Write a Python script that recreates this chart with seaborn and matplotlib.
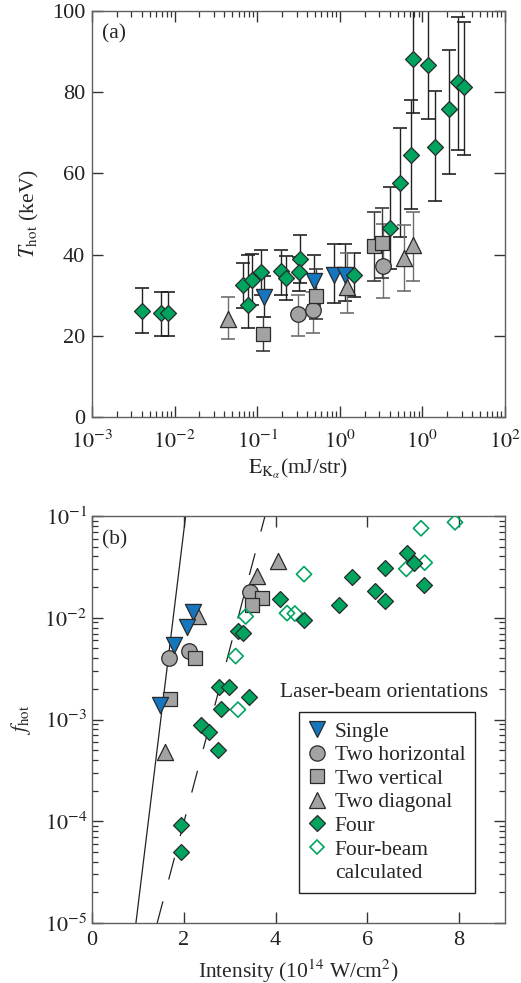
import numpy as np
import pandas as pd
import matplotlib
matplotlib.use("Agg")
import matplotlib.pyplot as plt
import seaborn as sns
from matplotlib.lines import Line2D
from matplotlib.ticker import (LogLocator, FixedLocator, FixedFormatter,
                               NullLocator, NullFormatter)

# ---------------- Panel (a) data: E_Kalpha (mJ/str) vs T_hot (keV) ----------------
a_single_x = [0.122, 0.487, 0.84, 1.17]
a_single_y = [29.6, 33.6, 35.0, 35.0]
a_single_hi = [34.8, 39.9, 42.5, 42.5]
a_single_lo = [24.6, 27.5, 28.0, 28.5]

a_horiz_x = [0.316, 0.48, 3.36]
a_horiz_y = [25.4, 26.4, 37.2]
a_horiz_hi = [30.0, 30.9, 47.5]
a_horiz_lo = [20.0, 20.6, 29.2]

a_vert_x = [0.119, 0.52, 2.62, 3.27]
a_vert_y = [20.4, 29.7, 42.1, 42.9]
a_vert_hi = [24.6, 36.4, 50.6, 51.6]
a_vert_lo = [16.3, 24.1, 33.5, 34.2]

a_diag_x = [0.0438, 1.21, 5.98, 7.78]
a_diag_y = [24.1, 31.9, 39.1, 42.4]
a_diag_hi = [29.5, 40.5, 47.3, 50.4]
a_diag_lo = [19.1, 25.7, 31.0, 33.5]

a_four_x = [0.0040, 0.0068, 0.0083, 0.068, 0.078, 0.086, 0.112, 0.194, 0.224,
            0.332, 0.323, 1.49, 4.07, 5.38, 7.35, 7.78, 11.6, 14.3, 20.8, 26.7, 32.1]
a_four_y = [26.2, 25.5, 25.5, 32.5, 27.6, 33.7, 35.8, 36.0, 34.3,
            38.8, 35.6, 35.0, 46.6, 57.7, 64.6, 88.3, 86.7, 66.6, 75.8, 82.6, 81.3]
a_four_hi = [31.7, 30.9, 30.9, 38.0, 39.9, 40.1, 41.1, 41.1, 39.7,
             44.8, 39.5, 40.5, 56.6, 71.3, 78.2, 115.0, 115.0, 80.2, 90.4, 98.5, 97.4]
a_four_lo = [20.7, 19.9, 19.9, 26.9, 21.8, 27.5, 30.0, 30.0, 28.7,
             33.1, 31.0, 29.6, 36.4, 44.4, 51.2, 75.0, 73.5, 53.2, 59.9, 65.7, 64.5]

a_xtick_vals = [1e-3, 1e-2, 1e-1, 1e0, 1e1, 1e2]
a_xtick_labels = [r"$10^{-3}$", r"$10^{-2}$", r"$10^{-1}$", r"$10^{0}$", r"$10^{0}$", r"$10^{2}$"]
a_ytick_vals = [0, 20, 40, 60, 80, 100]

# ---------------- Panel (b) data: intensity vs f_hot ----------------
b_single_x = [2.19, 2.07, 1.79, 1.485]
b_single_y = [0.0115, 0.0082, 0.0054, 0.0014]

b_horiz_x = [1.667, 2.115, 3.44]
b_horiz_y = [0.0040, 0.0047, 0.0179]

b_vert_x = [2.24, 1.70, 3.70, 3.49]
b_vert_y = [0.0040, 0.0016, 0.0156, 0.0132]

b_diag_x = [2.32, 3.59, 4.06, 1.594]
b_diag_y = [0.0105, 0.0258, 0.0362, 0.00048]

b_four_x = [4.09, 4.62, 3.18, 3.28, 2.77, 2.98, 3.42, 2.82, 2.37, 2.54, 2.75,
            1.93, 1.93, 5.38, 5.67, 6.17, 6.39, 6.38, 6.86, 7.01, 7.24]
b_four_y = [0.0152, 0.0094, 0.0074, 0.0071, 0.0021, 0.0021, 0.00166, 0.00127,
            0.00089, 0.00076, 0.00050, 9.1e-5, 5.0e-5, 0.0134, 0.0254, 0.0184,
            0.0147, 0.0311, 0.0430, 0.0348, 0.0211]

b_calc_x = [4.62, 7.17, 7.91, 6.85, 7.25, 3.35, 4.25, 4.42, 3.13, 3.18]
b_calc_y = [0.0268, 0.0757, 0.0867, 0.0302, 0.0348, 0.0103, 0.0111, 0.0110,
            0.0042, 0.00125]

fit_solid_x = [0.957, 2.04]
fit_solid_y = [1e-5, 1e-1]
fit_dashed_x = [1.42, 3.77]
fit_dashed_y = [1e-5, 1e-1]

b_xtick_vals = [0, 2, 4, 6, 8]
b_ytick_vals = [1e-5, 1e-4, 1e-3, 1e-2, 1e-1]
b_ytick_labels = [r"$10^{-5}$", r"$10^{-4}$", r"$10^{-3}$", r"$10^{-2}$", r"$10^{-1}$"]

legend_labels = ["Single", "Two horizontal", "Two vertical", "Two diagonal",
                 "Four", "Four-beam", "calculated"]

# ---------------- Styling ----------------
sns.set_theme(style="ticks")
plt.rcParams['font.family'] = ['Liberation Serif', 'DejaVu Serif']
plt.rcParams['mathtext.fontset'] = 'stix'
plt.rcParams['axes.unicode_minus'] = False

FS = 15.5
TFS = 16
BLUE = "#1575bd"
GREEN = "#00a45f"
GRAY = "#a3a3a3"
EDGE = "#2a2a2a"
SPINE = "#606060"

fig = plt.figure(figsize=(5.21, 9.83), dpi=100)
ax1 = fig.add_axes([0.1766, 0.5758, 0.7927, 0.4130])
ax2 = fig.add_axes([0.1766, 0.0610, 0.7927, 0.4141])


def style_axes(ax):
    for s in ax.spines.values():
        s.set_color(SPINE)
        s.set_linewidth(1.0)
    ax.tick_params(which='both', direction='in', top=True, right=True,
                   colors='#333333', labelcolor='#222222', labelsize=TFS)
    ax.tick_params(which='major', length=8, width=1.0)
    ax.tick_params(which='minor', length=4.5, width=0.9)


def scat(ax, x, y, marker, s, color, filled=True, z=4):
    if filled:
        sns.scatterplot(x=x, y=y, marker=marker, s=s, color=color,
                        edgecolor=EDGE, linewidth=0.9, ax=ax, zorder=z, legend=False)
    else:
        sns.scatterplot(x=x, y=y, marker=marker, s=s, color=color,
                        facecolor='none', edgecolor=color, linewidth=1.2,
                        ax=ax, zorder=z, legend=False)


def ebar(ax, x, y, lo, hi, color):
    y = np.asarray(y)
    err = [y - np.asarray(lo), np.asarray(hi) - y]
    ax.errorbar(x, y, yerr=err, fmt='none', ecolor=color, elinewidth=1.0,
                capsize=4.8, capthick=1.2, zorder=2)


# ---------------- Panel (a) ----------------
ebar(ax1, a_four_x, a_four_y, a_four_lo, a_four_hi, '#222222')
ebar(ax1, a_single_x, a_single_y, a_single_lo, a_single_hi, '#222222')
ebar(ax1, a_horiz_x, a_horiz_y, a_horiz_lo, a_horiz_hi, '#6e6e6e')
ebar(ax1, a_vert_x, a_vert_y, a_vert_lo, a_vert_hi, '#3a3a3a')
ebar(ax1, a_diag_x, a_diag_y, a_diag_lo, a_diag_hi, '#6e6e6e')

scat(ax1, a_horiz_x, a_horiz_y, 'o', 125, GRAY)
scat(ax1, a_vert_x, a_vert_y, 's', 110, GRAY)
scat(ax1, a_diag_x, a_diag_y, '^', 135, GRAY)
scat(ax1, a_single_x, a_single_y, 'v', 135, BLUE)
scat(ax1, a_four_x, a_four_y, 'D', 66, GREEN, z=5)

ax1.set_xscale('log')
ax1.set_xlim(1e-3, 1e2)
ax1.set_ylim(0, 100)
style_axes(ax1)
ax1.tick_params(axis='x', which='major', pad=9.5)
ax1.tick_params(axis='y', which='major', pad=5)
ax1.xaxis.set_major_locator(FixedLocator(a_xtick_vals))
ax1.xaxis.set_major_formatter(FixedFormatter(a_xtick_labels))
ax1.xaxis.set_minor_locator(LogLocator(base=10, subs=np.arange(2, 10), numticks=20))
ax1.xaxis.set_minor_formatter(NullFormatter())
ax1.yaxis.set_major_locator(FixedLocator(a_ytick_vals))
ax1.yaxis.set_minor_locator(NullLocator())
ax1.set_xlabel(r"$\mathrm{E}_{\mathrm{K}_{\alpha}}$(mJ/str)", fontsize=FS, labelpad=3)
ax1.set_ylabel(r"$T_{\mathrm{hot}}$ (keV)", fontsize=FS, labelpad=8)
ax1.text(0.024, 0.968, "(a)", transform=ax1.transAxes, fontsize=FS,
         ha='left', va='top')

# ---------------- Panel (b) ----------------
sns.lineplot(x=fit_solid_x, y=fit_solid_y, ax=ax2, color='#222222', lw=0.9,
             zorder=1, legend=False)
sns.lineplot(x=fit_dashed_x, y=fit_dashed_y, ax=ax2, color='#222222', lw=0.9,
             linestyle=(0, (18, 18)), zorder=1, legend=False)

scat(ax2, b_horiz_x, b_horiz_y, 'o', 125, GRAY)
scat(ax2, b_vert_x, b_vert_y, 's', 110, GRAY)
scat(ax2, b_diag_x, b_diag_y, '^', 135, GRAY)
scat(ax2, b_single_x, b_single_y, 'v', 135, BLUE)
scat(ax2, b_calc_x, b_calc_y, 'D', 60, GREEN, filled=False)
scat(ax2, b_four_x, b_four_y, 'D', 66, GREEN, z=5)

ax2.set_yscale('log')
ax2.set_xlim(0, 9)
ax2.set_ylim(1e-5, 1e-1)
style_axes(ax2)
ax2.tick_params(axis='x', which='major', pad=6)
ax2.xaxis.set_major_locator(FixedLocator(b_xtick_vals))
ax2.xaxis.set_minor_locator(NullLocator())
ax2.yaxis.set_major_locator(FixedLocator(b_ytick_vals))
ax2.yaxis.set_major_formatter(FixedFormatter(b_ytick_labels))
ax2.yaxis.set_minor_locator(LogLocator(base=10, subs=np.arange(2, 10), numticks=20))
ax2.yaxis.set_minor_formatter(NullFormatter())
ax2.set_xlabel(r"Intensity (10$^{14}$ W/cm$^{2}$)", fontsize=FS, labelpad=5)
ax2.set_ylabel(r"$f_{\mathrm{hot}}$", fontsize=FS, labelpad=8)
ax2.text(0.024, 0.965, "(b)", transform=ax2.transAxes, fontsize=FS,
         ha='left', va='top')

ax2.text(0.707, 0.566, "Laser-beam orientations", transform=ax2.transAxes,
         fontsize=FS, ha='center', va='center')

handles = [
    Line2D([], [], ls='none', marker='v', markersize=11, markerfacecolor=BLUE,
           markeredgecolor=EDGE, markeredgewidth=0.9),
    Line2D([], [], ls='none', marker='o', markersize=11, markerfacecolor=GRAY,
           markeredgecolor=EDGE, markeredgewidth=0.9),
    Line2D([], [], ls='none', marker='s', markersize=10, markerfacecolor=GRAY,
           markeredgecolor=EDGE, markeredgewidth=0.9),
    Line2D([], [], ls='none', marker='^', markersize=11, markerfacecolor=GRAY,
           markeredgecolor=EDGE, markeredgewidth=0.9),
    Line2D([], [], ls='none', marker='D', markersize=7.8, markerfacecolor=GREEN,
           markeredgecolor=EDGE, markeredgewidth=0.9),
    Line2D([], [], ls='none', marker='D', markersize=7.6, markerfacecolor='none',
           markeredgecolor=GREEN, markeredgewidth=1.2),
    Line2D([], [], ls='none', marker=None),
]
leg = ax2.legend(handles, legend_labels, loc='upper left',
                 bbox_to_anchor=(0.501, 0.518), borderaxespad=0,
                 fontsize=FS, frameon=True, fancybox=False, framealpha=1,
                 edgecolor='#222222', handlelength=0.8, handletextpad=0.42,
                 labelspacing=0.16, borderpad=0.45)
leg.get_frame().set_linewidth(1.0)
leg.set_zorder(10)

fig.savefig("out.png", dpi=100)
